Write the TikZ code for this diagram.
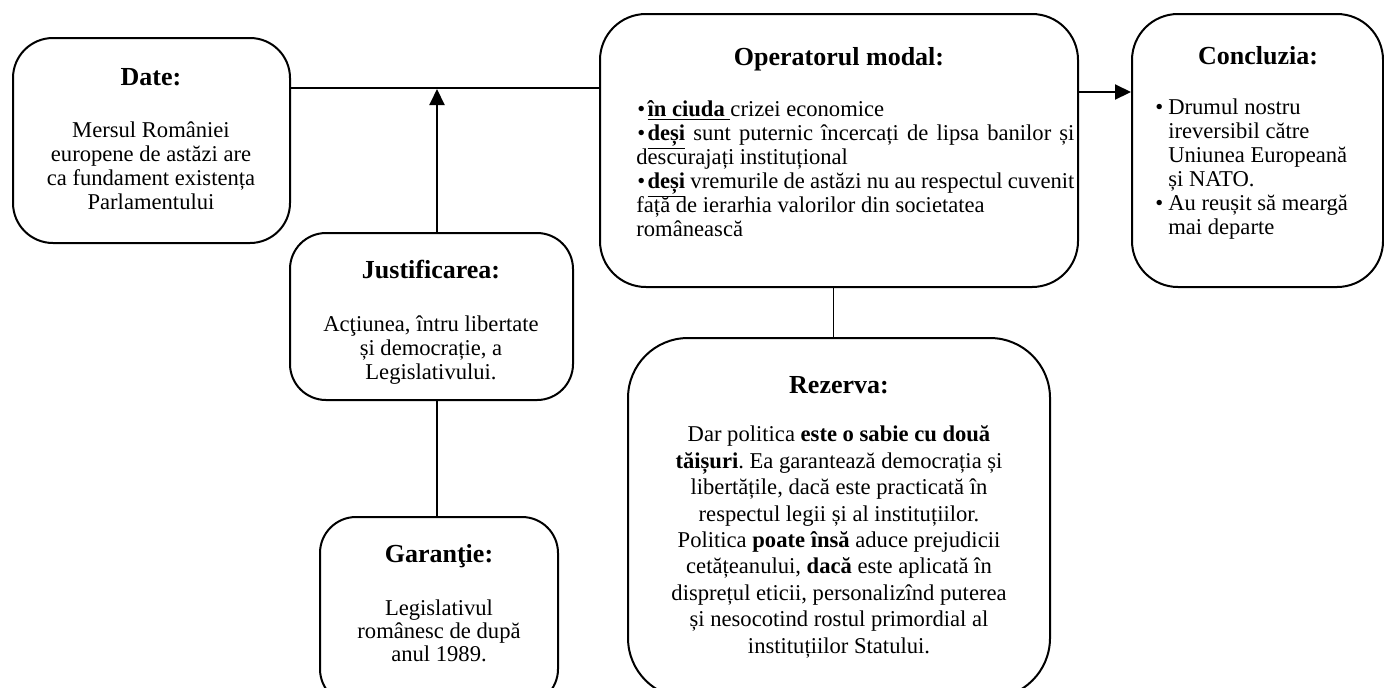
\documentclass[tikz,border=0pt]{standalone}
\usepackage{fontspec}
\setmainfont{Liberation Serif}
\frenchspacing
\usetikzlibrary{positioning,arrows.meta}
\tikzset{
  tbox/.style  ={rectangle, draw=black, line width=1pt, rounded corners=#1, inner sep=0pt},
  tbox/.default=20pt,
  hd/.style    ={font=\fontsize{13}{15}\selectfont\bfseries, inner sep=0pt, anchor=base},
  bd/.style    ={font=\fontsize{11.3}{12}\selectfont, align=center, inner sep=0pt, anchor=base},
  bdl/.style   ={bd, align=left, anchor=base west},
  arr/.style   ={-{Triangle[length=8pt,width=7.5pt]}, line width=1pt},
  ln/.style    ={line width=1pt},
  thinln/.style={line width=0.5pt},
}
\newcommand{\bul}[1][0.1em]{\hspace{0.5pt}\textbullet\hspace{#1}}
\newcommand{\ulb}[1]{\smash{\underline{\textbf{#1}}}}
\newcommand{\jline}[1]{\makebox[219pt][s]{#1}}

\begin{document}
\begin{tikzpicture}[x=0.5pt,y=-0.5pt]
  \useasboundingbox (0,0) rectangle (1384,687);
  \clip (0,0) rectangle (1384,687);
  % boxes
  \node[tbox, minimum width=138.5pt, minimum height=102.5pt] (date) at (151.5,140.5) {};
  \node[tbox=18pt, minimum width=141.5pt, minimum height=83.5pt] (just) at (431.5,316.5) {};
  \node[tbox=18pt, minimum width=119pt, minimum height=94pt] (gar) at (439,611) {};
  \node[tbox=23pt, minimum width=239pt, minimum height=136.5pt] (oper) at (839,150.5) {};
  \node[tbox=23pt, minimum width=125.5pt, minimum height=136.5pt] (concl) at (1257.5,150.5) {};
  \node[tbox=30pt, minimum width=211pt, minimum height=180pt] (rez) at (839,518) {};
  % headings
  \node[hd] (dateh) at (151,85) {Date:};
  \node[hd] (justh) at (431,278) {Justificarea:};
  \node[hd] (garh) at (439,562) {Garanţie:};
  \node[hd] (operh) at (839,65) {Operatorul modal:};
  \node[hd] (conclh) at (1258,64) {Concluzia:};
  \node[hd] (rezh) at (839,393) {Rezerva:};
  % texts (base = last line)
  \node[bd] (datet) at (151,209) {Mersul României\\europene de astăzi are\\ca fundament existența\\Parlamentului};
  \node[bd] (justt) at (431,379) {Acţiunea, întru libertate\\și democrație, a\\Legislativului.};
  \node[bd, font=\fontsize{11.3}{11.5}\selectfont] (gart) at (439,661) {Legislativul\\românesc de după\\anul 1989.};
  \node[bdl, font=\fontsize{11.3}{12}\selectfont] (opert) at (636,236) {\bul\ulb{în ciuda\ }crizei economice\\
    \jline{\bul\ulb{deși} sunt puternic încercați de lipsa banilor și}\\
    descurajați instituțional\\
    \jline{\bul\ulb{deși} vremurile de astăzi nu au respectul cuvenit}\\
    față de ierarhia valorilor din societatea\\
    românească};
  \node[bdl] (conclt) at (1154,234) {\bul[0.22em]Drumul nostru\\
    \hphantom{\bul[0.22em]}ireversibil către\\
    \hphantom{\bul[0.22em]}Uniunea Europeană\\
    \hphantom{\bul[0.22em]}și NATO.\\
    \bul[0.22em]Au reușit să meargă\\
    \hphantom{\bul[0.22em]}mai departe};
  \node[bd, font=\fontsize{11.3}{13.2}\selectfont] (rezt) at (839,653) {Dar politica \textbf{este o sabie cu două}\\
    \textbf{tăișuri}. Ea garantează democrația și\\
    libertățile, dacă este practicată în\\
    respectul legii și al instituțiilor.\\
    Politica \textbf{poate însă} aduce prejudicii\\
    cetățeanului, \textbf{dacă} este aplicată în\\
    disprețul eticii, personalizînd puterea\\
    și nesocotind rostul primordial al\\
    instituțiilor Statului.};
  % connectors
  \coordinate (jn) at (437,88);
  \coordinate (cn) at (1105,92);
  \coordinate (rn) at (833,312);
  \draw[ln] (date.east |- jn) -- (oper.west |- jn);
  \draw[arr] (just.north -| jn) -- ([yshift=-0.5pt]jn);
  \draw[ln] (just.south -| jn) -- (gar.north -| jn);
  \draw[arr] (oper.east |- cn) -- (concl.west |- cn);
  \draw[thinln] (oper.south -| rn) -- (rez.north -| rn);
\end{tikzpicture}
\end{document}
